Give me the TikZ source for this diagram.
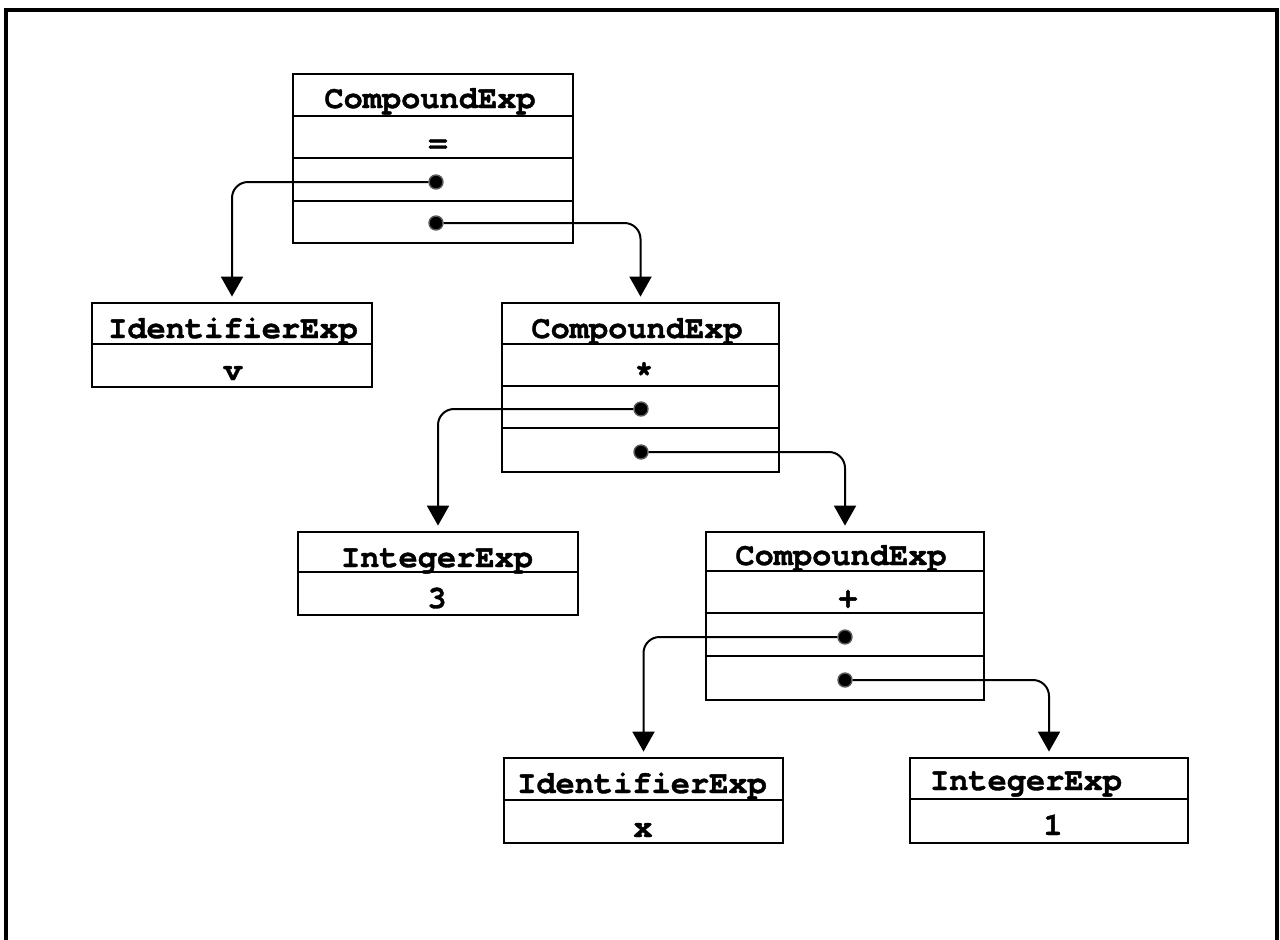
\documentclass[tikz,border=0pt]{standalone}
\usepackage{fontspec}
\setmonofont{TeX Gyre Cursor}[Ligatures={NoCommon}, BoldFeatures={FakeBold=1.2}]
\usetikzlibrary{arrows.meta,calc}
\tikzset{
  box/.style={draw, line width=1.4pt, inner sep=0pt, rectangle},
  sep/.style={line width=0.9pt},
  lbl/.style={anchor=base, inner sep=0pt, font=\fontsize{16}{18}\selectfont\ttfamily\bfseries},
  dot/.style={circle, fill=black, draw=black!65, line width=0.7pt, inner sep=0pt, minimum size=7pt},
  conn/.style={line width=1pt, rounded corners=8pt, -{Triangle[width=11pt,length=10pt]}, shorten >=2.5pt},
  frame/.style={line width=1.6pt}
}
\begin{document}
\begin{tikzpicture}[x=0.5pt,y=-0.5pt]
\useasboundingbox (0,0) rectangle (1280,939);
\draw[frame] (6,945) -- (6,10) -- (1277,10) -- (1277,945);

% boxes
\node[box, minimum width=140pt, minimum height=84.5pt] (c1) at (433,158.5) {};
\node[box, minimum width=140pt, minimum height=42pt] (i1) at (232,345) {};
\node[box, minimum width=138.5pt, minimum height=84.5pt] (c2) at (640.5,387.5) {};
\node[box, minimum width=140pt, minimum height=41.5pt] (n1) at (438,573.5) {};
\node[box, minimum width=139pt, minimum height=84pt] (c3) at (845,616) {};
\node[box, minimum width=139.5pt, minimum height=42.5pt] (i2) at (643.5,800.5) {};
\node[box, minimum width=139pt, minimum height=42.5pt] (n2) at (1049,800.5) {};

% separators
\foreach \b/\o in {c1/43,c1/85,c1/128,c2/42,c2/84,c2/126,c3/40,c3/82,c3/125,i1/42,n1/41,i2/43,n2/42}{
  \draw[sep] ($(\b.north west)+(0,\o)$) -- ($(\b.north east)+(0,\o)$);
}

% titles
\node[lbl] (t1) at (430,108) {CompoundExp};
\node[lbl] (t2) at (233,338) {IdentifierExp};
\node[lbl] (t3) at (637,338) {CompoundExp};
\node[lbl] (t4) at (437,567) {IntegerExp};
\node[lbl] (t5) at (841,565) {CompoundExp};
\node[lbl] (t6) at (642,793) {IdentifierExp};
\node[lbl] (t7) at (1026,790) {IntegerExp};

% values
\node[lbl] (v1) at (438,152) {=};
\node[lbl] (v2) at (233,380) {v};
\node[lbl] (v3) at (644,382) {*};
\node[lbl] (v4) at (437,608) {3};
\node[lbl] (v5) at (848,607) {+};
\node[lbl] (v6) at (643,837) {x};
\node[lbl] (v7) at (1053,835) {1};

% dots
\node[dot] (d1a) at (436,182) {};
\node[dot] (d1b) at (436,223) {};
\node[dot] (d2a) at (641,409) {};
\node[dot] (d2b) at (641,452) {};
\node[dot] (d3a) at (845,637) {};
\node[dot] (d3b) at (845,680) {};

% connectors
\draw[conn] (d1a) -| (i1.north);
\draw[conn] (d1b) -| (c2.north);
\draw[conn] (d2a) -| (n1.north);
\draw[conn] (d2b) -| (c3.north);
\draw[conn] (d3a) -| (i2.north);
\draw[conn] (d3b) -| (n2.north);
\end{tikzpicture}
\end{document}
